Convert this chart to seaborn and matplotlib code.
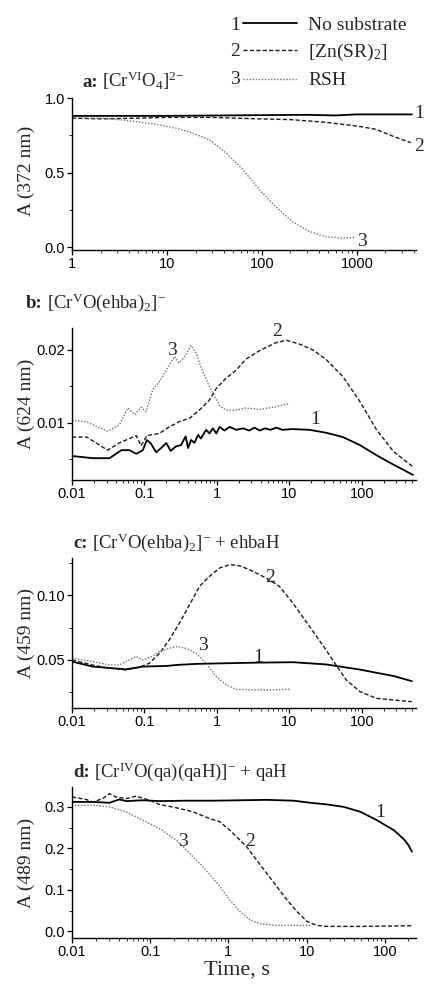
import numpy as np
import pandas as pd
import matplotlib
matplotlib.use("Agg")
import matplotlib.pyplot as plt
import matplotlib.ticker as mticker
import seaborn as sns

# ---------------- data ----------------
series_names = ["No substrate", "[Zn(SR)$_2$]", "RSH"]
series_ids = ["1", "2", "3"]

# panel a  (372 nm)
a_t1 = [1, 10, 100, 300, 600, 1000, 3800]
a_y1 = [0.88, 0.88, 0.885, 0.887, 0.883, 0.89, 0.89]
a_t2 = [1, 2, 5, 10, 30, 93, 200, 470, 1050, 1590, 2370, 3700]
a_y2 = [0.865, 0.86, 0.865, 0.87, 0.87, 0.86, 0.855, 0.837, 0.81, 0.79, 0.745, 0.70]
a_t3 = [1, 2, 3.7, 8.3, 13, 18.6, 28, 42, 63, 94, 140, 210, 315, 470, 710, 980]
a_y3 = [0.866, 0.865, 0.85, 0.82, 0.795, 0.765, 0.72, 0.63, 0.52, 0.385, 0.27, 0.17,
        0.105, 0.07, 0.06, 0.065]

# panel b  (624 nm)
b_t1 = [0.01, 0.0193, 0.033, 0.048, 0.062, 0.077, 0.095, 0.108, 0.123, 0.145,
        0.17, 0.2, 0.23, 0.27, 0.32, 0.37, 0.4, 0.44, 0.49, 0.55,
        0.6, 0.71, 0.79, 0.88, 0.98, 1.09, 1.27, 1.5, 1.85, 2.3,
        2.8, 3.3, 3.9, 4.6, 5.5, 6.6, 8.0, 11, 19, 32,
        55, 94, 160, 275, 510]
b_y1 = [0.0054, 0.0051, 0.0051, 0.0062, 0.0062, 0.0057, 0.0062, 0.0076, 0.0071, 0.0059,
        0.0065, 0.0072, 0.0061, 0.0067, 0.0069, 0.0081, 0.0065, 0.0076, 0.0072, 0.0083,
        0.0078, 0.0090, 0.0085, 0.0092, 0.0085, 0.0094, 0.0089, 0.0094, 0.0090, 0.0092,
        0.0089, 0.0093, 0.0089, 0.0092, 0.0090, 0.0093, 0.0090, 0.0091, 0.0090, 0.0086,
        0.0080, 0.0069, 0.0055, 0.0042, 0.0028]
b_t2 = [0.01, 0.016, 0.031, 0.045, 0.077, 0.09, 0.108, 0.16, 0.22, 0.3,
        0.42, 0.57, 0.79, 0.98, 1.34, 1.85, 2.5, 3.9, 6.6, 9.1,
        13.7, 21, 32, 55, 94, 160, 275, 510]
b_y2 = [0.0080, 0.0080, 0.0062, 0.0072, 0.0082, 0.0068, 0.0082, 0.0085, 0.0094, 0.0101,
        0.0106, 0.0117, 0.0131, 0.0147, 0.0161, 0.0172, 0.0187, 0.0199, 0.0210, 0.0213,
        0.0208, 0.0200, 0.0187, 0.0163, 0.0129, 0.0090, 0.0060, 0.0039]
b_t3 = [0.01, 0.016, 0.031, 0.045, 0.059, 0.073, 0.09, 0.105, 0.13, 0.16,
        0.2, 0.26, 0.3, 0.35, 0.44, 0.52, 0.6, 0.75, 0.93, 1.1,
        1.34, 1.85, 2.5, 3.9, 5.9, 10]
b_y3 = [0.0103, 0.0101, 0.0088, 0.0097, 0.0120, 0.0111, 0.0121, 0.0115, 0.0145, 0.0156,
        0.0172, 0.0191, 0.0182, 0.0189, 0.0206, 0.0195, 0.0177, 0.0154, 0.0136, 0.0123,
        0.0117, 0.0117, 0.0120, 0.0118, 0.0121, 0.0126]

# panel c  (459 nm)
c_t1 = [0.01, 0.0193, 0.0558, 0.0948, 0.2, 0.3, 0.52, 1.34, 3.9, 11.2, 32, 94, 160, 275, 490]
c_y1 = [0.0487, 0.0448, 0.0427, 0.0448, 0.0453, 0.0462, 0.0469, 0.0474, 0.0479, 0.0482,
        0.0465, 0.0425, 0.0400, 0.0375, 0.0335]
c_t2 = [0.01, 0.0193, 0.0328, 0.0558, 0.0853, 0.117, 0.161, 0.22, 0.304, 0.419,
        0.575, 0.79, 1.09, 1.49, 2.05, 2.8, 3.9, 5.3, 7.3, 11.2,
        19, 32, 44, 61, 94, 160, 275, 490]
c_y2 = [0.0500, 0.0460, 0.0435, 0.0422, 0.0443, 0.0474, 0.0550, 0.0655, 0.0785, 0.0927,
        0.1070, 0.1148, 0.1212, 0.1238, 0.1230, 0.1200, 0.1160, 0.1120, 0.1070, 0.0940,
        0.0759, 0.0578, 0.0461, 0.0345, 0.0254, 0.0202, 0.0189, 0.0176]
c_t3 = [0.01, 0.0193, 0.0328, 0.045, 0.062, 0.077, 0.0948, 0.130, 0.161, 0.22,
        0.274, 0.377, 0.519, 0.71, 0.98, 1.34, 1.85, 3.1, 5.9, 10.1]
c_y3 = [0.0513, 0.0487, 0.0461, 0.0461, 0.0500, 0.0526, 0.0500, 0.0530, 0.0565, 0.0590,
        0.0604, 0.0590, 0.0550, 0.0474, 0.0370, 0.0306, 0.0272, 0.0267, 0.0267, 0.0272]

# panel d  (489 nm)
d_t1 = [0.01, 0.0184, 0.0301, 0.0404, 0.0493, 0.0805, 0.131, 0.289, 0.635, 1.4,
        3.08, 6.8, 11.1, 18.2, 29.9, 49, 79, 130, 175, 200, 222]
d_y1 = [0.312, 0.312, 0.310, 0.318, 0.314, 0.316, 0.314, 0.315, 0.315, 0.316,
        0.317, 0.315, 0.310, 0.306, 0.300, 0.288, 0.268, 0.244, 0.222, 0.208, 0.192]
d_t2 = [0.01, 0.0151, 0.0184, 0.0247, 0.0301, 0.0366, 0.0493, 0.066, 0.098, 0.131,
        0.215, 0.353, 0.575, 0.776, 1.04, 1.40, 1.71, 2.29, 3.08, 4.15,
        5.6, 7.5, 10.1, 13.5, 18.2, 49, 222]
d_y2 = [0.324, 0.318, 0.312, 0.320, 0.332, 0.324, 0.320, 0.326, 0.316, 0.306,
        0.298, 0.288, 0.272, 0.264, 0.244, 0.220, 0.204, 0.172, 0.140, 0.108,
        0.076, 0.048, 0.024, 0.0144, 0.012, 0.012, 0.0136]
d_t3 = [0.01, 0.0184, 0.0301, 0.0493, 0.0805, 0.131, 0.215, 0.289, 0.428, 0.635,
        0.776, 1.04, 1.40, 1.88, 2.53, 4.15, 6.8, 11.1]
d_y3 = [0.304, 0.304, 0.300, 0.288, 0.268, 0.248, 0.220, 0.196, 0.164, 0.128,
        0.108, 0.076, 0.048, 0.028, 0.0184, 0.0144, 0.0144, 0.0144]

panel_letters = ["a:", "b:", "c:", "d:"]
panel_titles = [
    r"[Cr$^{\rm VI}$O$_4$]$^{2\!-}$",
    r"[Cr$^{\rm V}$O(ehba)$_2$]$^{-}$",
    r"[Cr$^{\rm V}$O(ehba)$_2$]$^{-}$ + ehbaH",
    r"[Cr$^{\rm IV}$O(qa)(qaH)]$^{-}$ + qaH",
]
y_labels = ["A (372 nm)", "A (624 nm)", "A (459 nm)", "A (489 nm)"]
x_tick_vals = [[1, 10, 100, 1000], [0.01, 0.1, 1, 10, 100],
               [0.01, 0.1, 1, 10, 100], [0.01, 0.1, 1, 10, 100]]
y_tick_vals = [[0.0, 0.5, 1.0], [0.01, 0.02], [0.05, 0.10], [0.0, 0.1, 0.2, 0.3]]
y_fmts = ["%.1f", "%.2f", "%.2f", "%.1f"]
x_label = "Time, s"

# ---------------- style ----------------
sns.set_style("ticks")
plt.rcParams["font.family"] = ["Liberation Sans", "DejaVu Sans"]
plt.rcParams["mathtext.fontset"] = "custom"
plt.rcParams["mathtext.rm"] = "Liberation Serif"
plt.rcParams["mathtext.it"] = "Liberation Serif:italic"
plt.rcParams["mathtext.bf"] = "Liberation Serif:bold"
SERIF = ["Liberation Serif", "DejaVu Serif"]

styles = {
    "1": dict(color="black", linestyle="-", linewidth=1.3),
    "2": dict(color="#1a1a1a", linestyle=(0, (3.0, 1.6)), linewidth=1.0),
    "3": dict(color="#707070", linestyle=(0, (1.0, 1.2)), linewidth=1.0),
}

panels = [
    ((a_t1, a_y1), (a_t2, a_y2), (a_t3, a_y3)),
    ((b_t1, b_y1), (b_t2, b_y2), (b_t3, b_y3)),
    ((c_t1, c_y1), (c_t2, c_y2), (c_t3, c_y3)),
    ((d_t1, d_y1), (d_t2, d_y2), (d_t3, d_y3)),
]

W, H = 426, 986
fig = plt.figure(figsize=(W / 100, H / 100), dpi=100)
renderer = fig.canvas.get_renderer()

ax_px = [(98, 250), (328, 480), (558, 708), (787, 938)]
left_px, right_px = 72, 416
xlims = [(1, 4200), (0.01, 560), (0.01, 560), (0.01, 250)]
ylims = [(-0.02, 1.0), (0.0021, 0.0230), (0.0127, 0.129), (-0.016, 0.348)]
title_pos = [(82, 87), (26, 308), (73, 548), (73, 777)]   # left x, baseline y (px)
num_pos = [
    [("1", 1.009, 0.895), ("2", 1.009, 0.678), ("3", 0.843, 0.053)],
    [("1", 0.706, 0.395), ("2", 0.596, 0.974), ("3", 0.291, 0.849)],
    [("1", 0.541, 0.340), ("2", 0.576, 0.873), ("3", 0.381, 0.420)],
    [("1", 0.895, 0.828), ("2", 0.517, 0.636), ("3", 0.323, 0.636)],
]

axes = []
for i, (top, bot) in enumerate(ax_px):
    ax = fig.add_axes([left_px / W, 1 - bot / H, (right_px - left_px) / W, (bot - top) / H])
    axes.append(ax)
    for sid, name, (t, y) in zip(series_ids, series_names, panels[i]):
        df = pd.DataFrame({"t": t, "A": y})
        sns.lineplot(data=df, x="t", y="A", ax=ax, estimator=None, sort=True,
                     label=name if i == 0 else None, **styles[sid])
    ax.set_xscale("log")
    ax.set_xlim(*xlims[i])
    ax.set_ylim(*ylims[i])
    ax.xaxis.set_major_locator(mticker.FixedLocator(x_tick_vals[i]))
    ax.xaxis.set_major_formatter(mticker.FuncFormatter(lambda v, p: "%g" % v))
    ax.xaxis.set_minor_locator(mticker.LogLocator(base=10, subs=np.arange(2, 10), numticks=20))
    ax.xaxis.set_minor_formatter(mticker.NullFormatter())
    ax.yaxis.set_major_locator(mticker.FixedLocator(y_tick_vals[i]))
    ax.yaxis.set_major_formatter(mticker.FormatStrFormatter(y_fmts[i]))
    ax.yaxis.set_minor_locator(mticker.AutoMinorLocator(2))
    ax.tick_params(which="major", direction="out", length=3.5, width=0.9, labelsize=10.5,
                   pad=1.5, colors="black")
    ax.tick_params(which="minor", direction="out", length=2, width=0.7)
    for s in ["top", "right"]:
        ax.spines[s].set_visible(False)
    for s in ["left", "bottom"]:
        ax.spines[s].set_linewidth(1.0)
        ax.spines[s].set_color("black")
    ax.set_xlabel("")
    ax.set_ylabel(y_labels[i], fontsize=14, family=SERIF)
    ax.yaxis.set_label_coords(-0.108, 0.52 if i == 0 else 0.5)
    if ax.get_legend() is not None:
        ax.get_legend().remove()
    # title: bold letter, then the formula right after it
    tx, ty = title_pos[i][0] / W, 1 - title_pos[i][1] / H
    t_bold = fig.text(tx, ty, panel_letters[i], fontsize=13.5, family=SERIF,
                      fontweight="bold", ha="left", va="baseline")
    bb = t_bold.get_window_extent(renderer=renderer)
    gap = 4.5
    fig.text((bb.x1 + gap) / W, ty, panel_titles[i], fontsize=13.5, family=SERIF,
             ha="left", va="baseline")
    # curve numbers
    for txt, fx, fy in num_pos[i]:
        ax.text(fx, fy, txt, transform=ax.transAxes, fontsize=14, family=SERIF,
                ha="center", va="center", clip_on=False)

axes[3].set_xlabel(x_label, fontsize=16, family=SERIF)
axes[3].xaxis.set_label_coords(0.48, -0.148)

# legend
handles = axes[0].get_lines()[:3]
leg = fig.legend(handles=handles, labels=series_names, loc="upper left",
                 bbox_to_anchor=(243 / W, 1 - 16 / H), frameon=False,
                 prop={"family": SERIF, "size": 14}, handlelength=2.8,
                 handletextpad=0.55, labelspacing=0.44, borderpad=0, borderaxespad=0)
for k, sid in enumerate(series_ids):
    fig.text(235 / W, 1 - (25 + 27 * k) / H, sid, fontsize=14, family=SERIF,
             ha="center", va="center")

fig.savefig("out.png", dpi=100)
